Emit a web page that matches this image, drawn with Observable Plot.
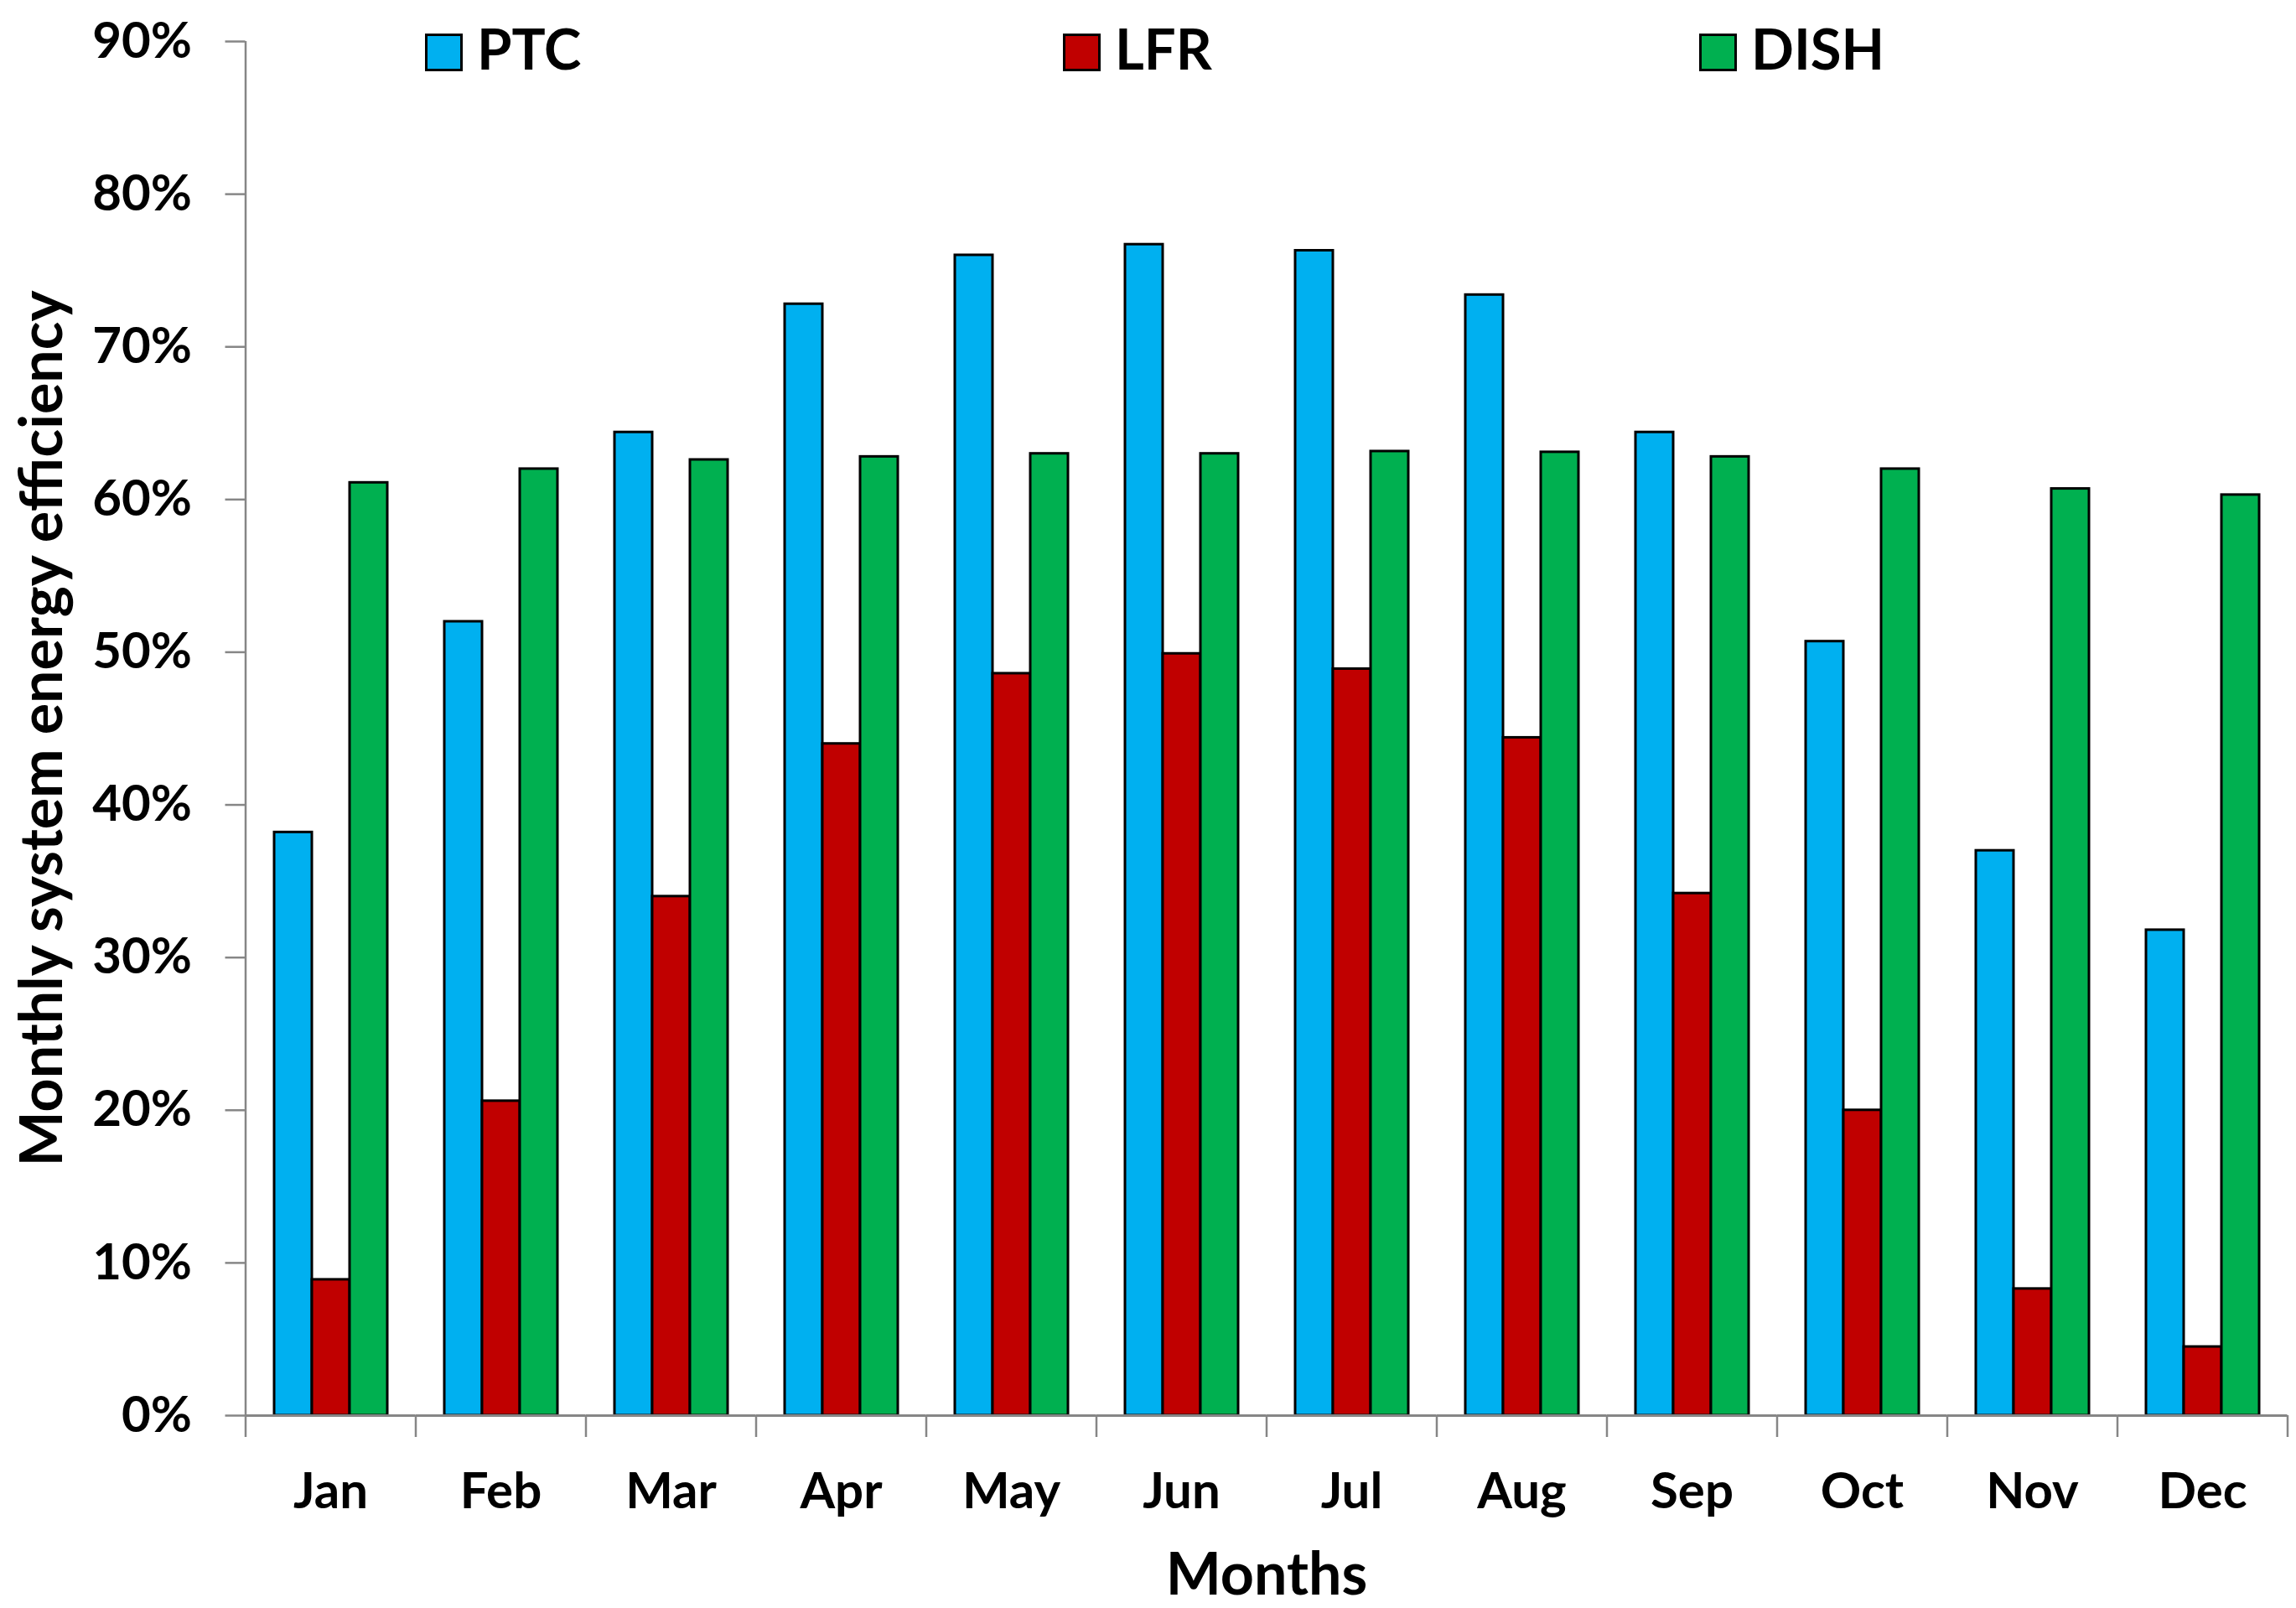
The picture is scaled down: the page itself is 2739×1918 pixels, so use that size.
<!DOCTYPE html>
<html><head><meta charset="utf-8">
<script src="https://cdn.jsdelivr.net/npm/d3@7"></script>
<script src="https://cdn.jsdelivr.net/npm/@observablehq/plot@0.6"></script>
<style>
html,body{margin:0;padding:0;background:#fff;}
#wrap{position:relative;width:2739px;height:1918px;font-family:Lato,"Open Sans",sans-serif;font-weight:700;color:#000;}
.item{position:absolute;top:0;height:0;}
.sw{position:absolute;top:40px;left:0;width:45px;height:45px;box-sizing:border-box;border:3px solid #000;}
.lb{position:absolute;top:24px;left:62px;font-size:67px;line-height:1;white-space:nowrap;}
</style></head><body><div id="wrap"></div>
<script>
const months = ["Jan","Feb","Mar","Apr","May","Jun","Jul","Aug","Sep","Oct","Nov","Dec"];
const series = ["PTC","LFR","DISH"];
const ptc  = [38.2, 52.0, 64.4, 72.8, 76.0, 76.7, 76.3, 73.4, 64.4, 50.7, 37.0, 31.8];
const lfr  = [8.9, 20.6, 34.0, 44.0, 48.6, 49.9, 48.9, 44.4, 34.2, 20.0, 8.3, 4.5];
const dish = [61.1, 62.0, 62.6, 62.8, 63.0, 63.0, 63.15, 63.1, 62.8, 62.0, 60.7, 60.3];
const colors = ["#00B0F0","#C00000","#00B050"];
const yTicks = [0,10,20,30,40,50,60,70,80,90];

const values = [ptc, lfr, dish];
const data = [];
months.forEach((m,i)=>series.forEach((s,j)=>data.push({month:m, series:s, value:values[j][i]})));

const W=2739, H=1918, ml=293, mr=10, mt=49, mb=230;
const step=(W-ml-mr)/months.length;
const padIn=0.33;
const halfGap=step*padIn/2;
const axisColor="#868686";

const chart = Plot.plot({
  width:W, height:H, marginLeft:ml, marginRight:mr, marginTop:mt, marginBottom:mb,
  style:{fontFamily:"Lato, 'Open Sans', sans-serif", fontWeight:700, color:"#000", background:"#fff", overflow:"visible"},
  fx:{domain:months, paddingInner:padIn, paddingOuter:padIn/2, label:null, axis:null},
  x:{domain:series, padding:0, axis:null},
  y:{domain:[0,90], label:null},
  color:{domain:series, range:colors},
  marks:[
    Plot.barY(data,{fx:"month", x:"series", y:"value", fill:"series", stroke:"#000", strokeWidth:3}),
    Plot.ruleY([0],{stroke:axisColor, strokeWidth:3, insetLeft:-halfGap, insetRight:-halfGap}),
    Plot.axisY({ticks:yTicks, tickFormat:d=>d+"%", tickSize:24, tickPadding:40, fontSize:60, stroke:axisColor, strokeWidth:2.5, dx:-halfGap, label:null}),
    Plot.axisY({ticks:yTicks, tickSize:0, tickFormat:()=>"", label:"Monthly system energy efficiency", labelAnchor:"center", labelArrow:"none", labelOffset:ml+halfGap-24, fontSize:70}),
    Plot.axisFx({anchor:"bottom", tickSize:0, tickPadding:68, fontSize:60, label:null}),
    Plot.axisFx({anchor:"bottom", tickSize:26, tickFormat:()=>"", dx:step/2, stroke:axisColor, strokeWidth:2.5, label:null}),
    Plot.axisFx({anchor:"bottom", ticks:[months[0]], tickSize:26, tickFormat:()=>"", dx:-step/2, stroke:axisColor, strokeWidth:2.5, label:null}),
    Plot.axisFx({anchor:"bottom", ticks:[months[0]], tickSize:-(H-mt-mb), tickFormat:()=>"", dx:-step/2, stroke:axisColor, strokeWidth:2.5, label:null}),
    Plot.axisFx({anchor:"bottom", tickSize:0, tickFormat:()=>"", label:"Months", labelAnchor:"center", labelArrow:"none", labelOffset:213, fontSize:70})
  ]
});
const wrap=document.getElementById("wrap");
wrap.appendChild(chart);
const legendLeft=[507,1268,2027];
series.forEach((s,j)=>{
  const it=document.createElement("div"); it.className="item"; it.style.left=legendLeft[j]+"px";
  const sw=document.createElement("div"); sw.className="sw"; sw.style.background=colors[j];
  const lb=document.createElement("div"); lb.className="lb"; lb.textContent=s;
  it.appendChild(sw); it.appendChild(lb); wrap.appendChild(it);
});
</script></body></html>
